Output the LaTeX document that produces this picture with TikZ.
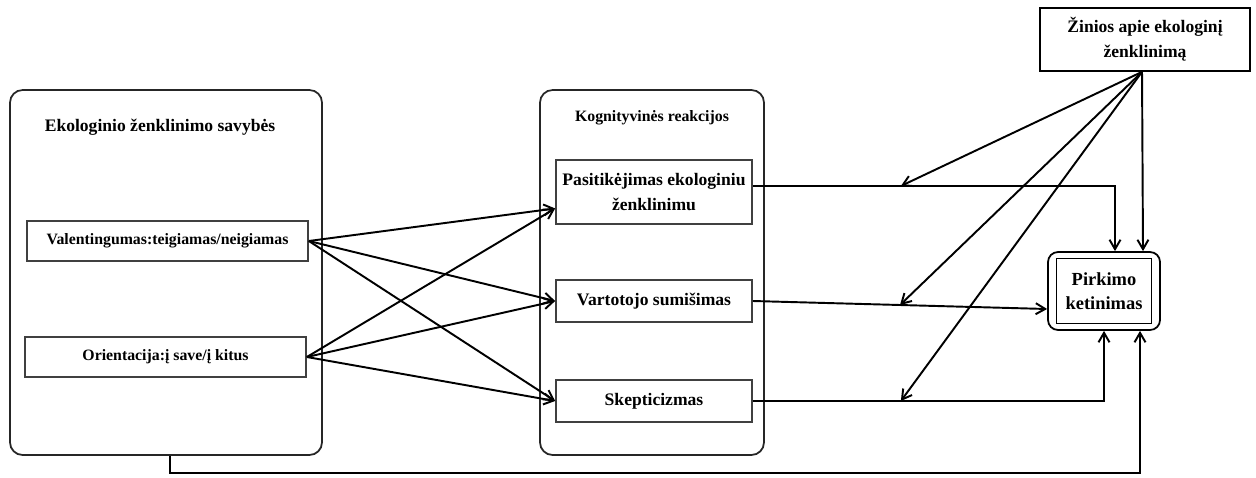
\documentclass[tikz,border=0pt]{standalone}
\usepackage{fontspec}
\setmainfont{Liberation Serif}
\usetikzlibrary{arrows.meta,calc}

\begin{document}
\begin{tikzpicture}[x=0.02cm,y=-0.02cm,
  grp/.style={draw=black!85,line width=1pt,rounded corners=0.25cm,inner sep=0pt},
  box/.style={draw=black!75,line width=1pt,inner sep=0pt,align=center,
    font=\bfseries\fontsize{10}{14}\selectfont},
  arr/.style={line width=1.1pt,-{Straight Barb[length=1.9mm,width=2.2mm]}}]
\useasboundingbox (0,0) rectangle (1256,477);

% ekologinio zenklinimo savybes
\node[grp,minimum width=6.24cm,minimum height=7.3cm] (props) at (166,272.5) {};
\node[font=\bfseries\fontsize{10}{12}\selectfont] (propsttl) at (160,127) {Ekologinio ženklinimo savybės};
\node[box,minimum width=5.62cm,minimum height=0.8cm,font=\bfseries\fontsize{9}{11}\selectfont] (val) at (167.5,241) {Valentingumas:teigiamas/neigiamas};
\node[box,minimum width=5.62cm,minimum height=0.8cm,font=\bfseries\fontsize{9}{11}\selectfont] (ori) at (165.5,357) {Orientacija:į save/į kitus};

% kognityvines reakcijos
\node[grp,minimum width=4.48cm,minimum height=7.3cm] (cogn) at (652,272.5) {};
\node[font=\bfseries\fontsize{9}{11}\selectfont] (cognttl) at (652,118) {Kognityvinės reakcijos};
\node[box,minimum width=3.92cm,minimum height=1.28cm] (pas) at (654,192) {Pasitikėjimas ekologiniu\\ženklinimu};
\node[box,minimum width=3.92cm,minimum height=0.84cm] (var) at (654,301) {Vartotojo sumišimas};
\node[box,minimum width=3.92cm,minimum height=0.84cm] (ske) at (654,401) {Skepticizmas};

% zinios ir ketinimas
\node[box,draw=black,minimum width=4.2cm,minimum height=1.26cm] (zin) at (1145,39.5) {Žinios apie ekologinį\\ženklinimą};
\node[grp,draw=black,rounded corners=0.2cm,minimum width=2.24cm,minimum height=1.56cm] (pir) at (1104,291) {};
\node[box,draw=black,minimum width=1.9cm,minimum height=1.3cm,font=\bfseries\fontsize{10.5}{14}\selectfont] (pirin) at (pir) {Pirkimo\\ketinimas};

\coordinate (pasin) at ($(pas.south west)!0.25!(pas.north west)$);
\coordinate (pasout) at ($(pas.east)+(0,-6)$);
\coordinate (pirtopa) at ($(pir.north)+(11,0)$);
\coordinate (pirtopb) at ($(pir.north)+(39,0)$);
\coordinate (pirbotb) at ($(pir.south)+(36,0)$);
\coordinate (pirleft) at ($(pir.west)+(0,18)$);
\coordinate (propsout) at ($(props.south)+(4,0)$);
\coordinate (zinout) at ($(zin.south)+(-3,0)$);
\coordinate (k1) at ($(pasout)+(148,0)$);
\coordinate (k2) at ($(var.east)!0.5!(pirleft)$);
\coordinate (k3) at ($(ske.east)+(148,0)$);

\foreach \s in {val,ori}
  \foreach \t in {pasin,var.west,ske.west}
    \draw[arr] (\s.east) -- (\t);

\draw[arr] (pasout) -| (pirtopa);
\draw[arr] (var.east) -- (pirleft);
\draw[arr] (ske.east) -| (pir.south);
\draw[arr] (propsout) -- ++(0,17) -| (pirbotb);

\foreach \t in {k1,k2,k3,pirtopb}
  \draw[arr] (zinout) -- (\t);

\end{tikzpicture}
\end{document}
